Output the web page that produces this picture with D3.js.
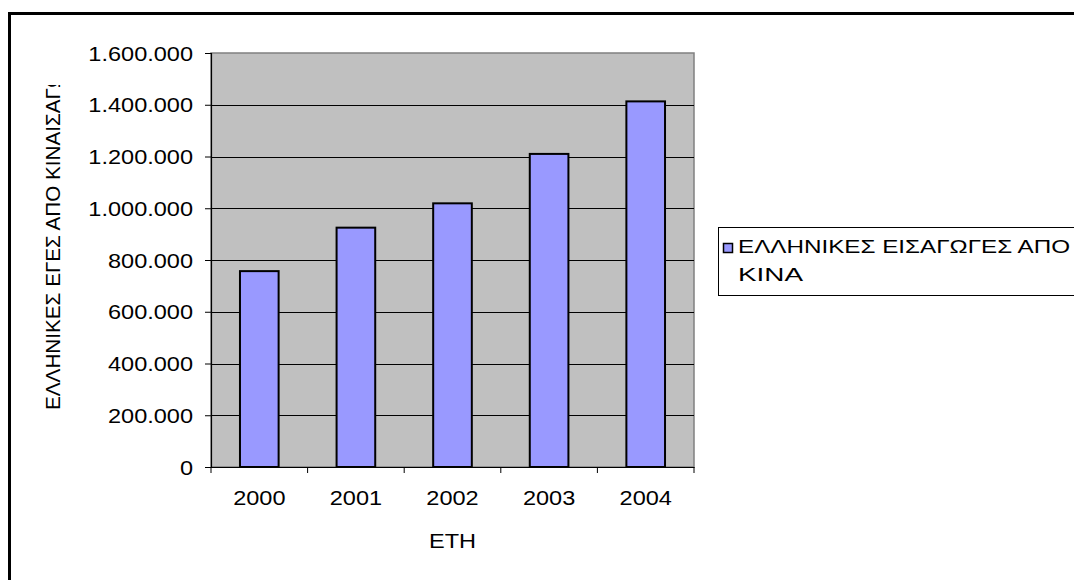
<!DOCTYPE html>
<html><head><meta charset="utf-8">
<script src="https://cdn.jsdelivr.net/npm/d3@7"></script>
<style>body{margin:0;background:#fff}svg{display:block}text{font-family:"Liberation Sans",Arial,sans-serif;fill:#000}</style>
</head><body>
<svg id="c" width="1074" height="580"></svg>
<script>
const categories = ["2000","2001","2002","2003","2004"];
const values = [757000, 925000, 1019000, 1210000, 1413000];
const yTicks = [0,200000,400000,600000,800000,1000000,1200000,1400000,1600000];
const seriesName = ["ΕΛΛΗΝΙΚΕΣ ΕΙΣΑΓΩΓΕΣ ΑΠΟ", "ΚΙΝΑ"];
const yTitle = "ΕΛΛΗΝΙΚΕΣ ΕΓΕΣ ΑΠΟ ΚΙΝΑΙΣΑΓΩ";
const yTitleVisible = "ΕΛΛΗΝΙΚΕΣ ΕΓΕΣ ΑΠΟ ΚΙΝΑΙΣΑΓ";
const xTitle = "ΕΤΗ";

const svg = d3.select("#c");
const STRETCH = 1.12;
function stretch(sel, f){ sel.each(function(){ const w=this.getComputedTextLength(); d3.select(this).attr("textLength", w*(f||STRETCH)).attr("lengthAdjust","spacingAndGlyphs"); }); }

const L=211, R=694, T=53, B=467;
const x = d3.scaleBand().domain(categories).range([L,R]).paddingInner(0.6).paddingOuter(0.3);
const y = d3.scaleLinear().domain([0,1600000]).range([B,T]);
const loc = d3.formatLocale({decimal:",", thousands:".", grouping:[3], currency:["","€"]});
const fmt = loc.format(",d");

// outer frame
svg.append("rect").attr("x",9.5).attr("y",13.5).attr("width",1200).attr("height",700).attr("fill","#fff").attr("stroke","#000").attr("stroke-width",3);

// plot area
svg.append("rect").attr("x",L).attr("y",T).attr("width",R-L).attr("height",B-T).attr("fill","#C0C0C0").attr("stroke","#808080").attr("stroke-width",1.5);

// gridlines
svg.append("g").selectAll("line").data(yTicks.filter(d=>d>0&&d<1600000)).join("line")
  .attr("x1",L).attr("x2",R).attr("y1",d=>Math.round(y(d))+0.5).attr("y2",d=>Math.round(y(d))+0.5)
  .attr("stroke","#000").attr("stroke-width",1);

// bars
svg.append("g").selectAll("rect").data(values).join("rect")
  .attr("x",(d,i)=>x(categories[i])).attr("width",x.bandwidth())
  .attr("y",d=>y(d)).attr("height",d=>B-y(d))
  .attr("fill","#9999FF").attr("stroke","#000").attr("stroke-width",2);

// y axis
const ya = svg.append("g").attr("transform",`translate(${L},0)`)
  .call(d3.axisLeft(y).tickValues(yTicks).tickFormat(fmt).tickSize(6).tickPadding(12));
ya.select(".domain").attr("stroke","#000").attr("stroke-width",1.2);
ya.selectAll(".tick line").attr("stroke","#000");
ya.selectAll(".tick text").attr("font-size",21).attr("dy","0.34em").style("font-family",'"Liberation Sans",Arial,sans-serif').call(stretch);

// x axis
const xa = svg.append("g").attr("transform",`translate(0,${B})`)
  .call(d3.axisBottom(x).tickSize(0).tickPadding(24));
xa.select(".domain").attr("stroke","#000").attr("stroke-width",1.2);
xa.selectAll(".tick text").attr("font-size",21).attr("dy","0.71em").attr("y",23).style("font-family",'"Liberation Sans",Arial,sans-serif').call(stretch);
const bounds = [L].concat(categories.map(c=>x(c)+x.bandwidth()+x.step()*x.paddingInner()/2));
xa.selectAll(".bt").data(bounds).join("line").attr("class","bt")
  .attr("x1",d=>d).attr("x2",d=>d).attr("y1",0).attr("y2",6).attr("stroke","#000");

// x title
svg.append("text").attr("x",(L+R)/2).attr("y",548).attr("text-anchor","middle").attr("font-size",21).text(xTitle).call(stretch);

// y title (clipped)
const tmp = svg.append("text").attr("font-size",21).text(yTitleVisible);
const visLen = tmp.node().getComputedTextLength(); tmp.remove();
const ratio = 322 / visLen;
svg.append("clipPath").attr("id","yc").append("rect").attr("x",0).attr("y",85).attr("width",200).attr("height",400);
svg.append("g").attr("clip-path","url(#yc)").append("text")
  .attr("transform","translate(60,410) rotate(-90)").attr("font-size",21).text(yTitle)
  .call(stretch, ratio);

// legend
svg.append("rect").attr("x",718.5).attr("y",227.5).attr("width",400).attr("height",68).attr("fill","#fff").attr("stroke","#000").attr("stroke-width",1);
svg.append("rect").attr("x",723.5).attr("y",243.5).attr("width",9).attr("height",9).attr("fill","#9999FF").attr("stroke","#000").attr("stroke-width",1.5);
const lt = svg.append("g");
lt.append("text").attr("x",738).attr("y",253).attr("font-size",18).text(seriesName[0]).attr("textLength",332).attr("lengthAdjust","spacingAndGlyphs");
lt.append("text").attr("x",738).attr("y",281).attr("font-size",18).text(seriesName[1]).attr("textLength",65).attr("lengthAdjust","spacingAndGlyphs");
</script>
</body></html>
